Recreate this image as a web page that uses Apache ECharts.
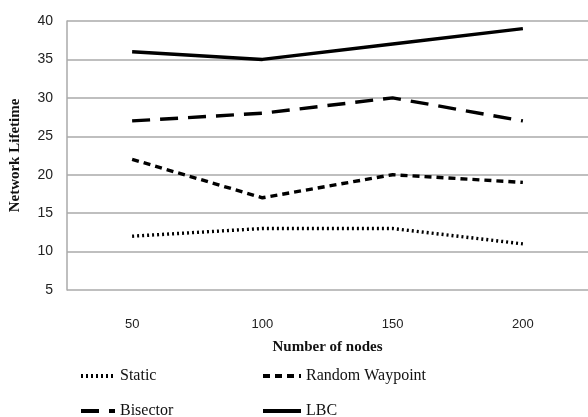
<!DOCTYPE html>
<html><head><meta charset="utf-8">
<script src="https://cdn.jsdelivr.net/npm/echarts@6/dist/echarts.min.js"></script>
<style>html,body{margin:0;padding:0;background:#fff}#c{width:588px;height:417px}</style>
</head><body><div id="c"></div>
<script>
var categories = ['50', '100', '150', '200'];
var staticVals = [12, 13, 13, 11];
var randomWaypoint = [22, 17, 20, 19];
var bisector = [27, 28, 30, 27];
var lbc = [36, 35, 37, 39];
var yTicks = {min: 5, max: 40, interval: 5};

var chart = echarts.init(document.getElementById('c'));
function mk(name, data, type) {
  return {name: name, type: 'line', data: data, symbol: 'none', showSymbol: false, silent: true,
    lineStyle: {color: '#000', width: 3.4, type: type, cap: 'butt'}, itemStyle: {color: '#000'}};
}
var legendText = {fontFamily: 'Liberation Serif', fontSize: 16, color: '#111'};
function lg(name, left, top, w) {
  return {data: [name], left: left, top: top, itemWidth: w, itemHeight: 10, itemGap: 4,
    textStyle: legendText, selectedMode: false,
    itemStyle: {opacity: 0}, lineStyle: {width: 4}};
}
chart.setOption({
  animation: false,
  grid: {left: 65, top: 21, width: 526, height: 269, containLabel: false},
  legend: [
    lg('Static', 74, 363, 34),
    lg('Random Waypoint', 256, 363, 38),
    lg('Bisector', 74, 398, 34),
    lg('LBC', 256, 398, 38)
  ],
  xAxis: {
    type: 'category', data: categories, boundaryGap: true,
    axisLine: {show: false}, axisTick: {show: false},
    axisLabel: {margin: 28, fontFamily: 'Liberation Sans', fontSize: 13, color: '#222'},
    name: 'Number of nodes', nameLocation: 'middle', nameGap: 50,
    nameTextStyle: {fontFamily: 'Liberation Serif', fontWeight: 'bold', fontSize: 15, color: '#111'}
  },
  yAxis: {
    type: 'value', min: yTicks.min, max: yTicks.max, interval: yTicks.interval,
    axisLine: {show: true, lineStyle: {color: '#aaa', width: 1.5}}, axisTick: {show: false},
    splitLine: {lineStyle: {color: '#aaa', width: 1.5}},
    axisLabel: {margin: 14, fontFamily: 'Liberation Sans', fontSize: 14, color: '#222'},
    name: 'Network Lifetime', nameLocation: 'middle', nameGap: 44, nameRotate: 90,
    nameTextStyle: {fontFamily: 'Liberation Serif', fontWeight: 'bold', fontSize: 15, color: '#111'}
  },
  series: [
    mk('Static', staticVals, [2, 3]),
    mk('Random Waypoint', randomWaypoint, [7, 5]),
    mk('Bisector', bisector, [18, 10]),
    mk('LBC', lbc, 'solid')
  ]
});
</script></body></html>
